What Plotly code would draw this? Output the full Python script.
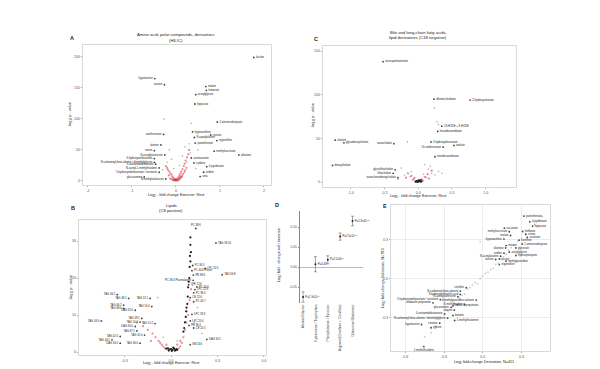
import plotly.graph_objects as go

# ---------------- Panel A: Amino acid, polar compounds (HILIC) ----------------
A_lab_x = [1.77, -0.48, -0.26, 0.68, 0.69, 0.45, 0.43, 0.94, -0.28, 0.38, 0.42, 0.79, 0.44, 0.93,
           -0.34, -0.49, -0.25, -0.49, -0.49, -0.46, -0.38, -0.38, -0.72, -0.23, 0.87, 1.43, 0.35,
           0.41, 0.70, 0.63, 0.55]
A_lab_y = [199, 165, 155, 152, 146, 139, 124, 95, 75, 79, 70, 74, 61, 65, 58, 49, 42, 36, 30, 27,
           21, 14, 6.5, 3.3, 48, 42, 37, 29, 23, 14, 7]
A_lab_name = ["lactate", "hypotaurine", "taurine", "malate", "fumarate", "acetylglycine", "hippurate",
              "2-aminoisobutyrate", "xanthurenate", "hypoxanthine", "N-acetylalanine", "inosine",
              "pantothenate", "trigonelline", "alanine", "serine", "N-acetylputrescine",
              "3-hydroxyanthranilate", "N-carbamoyl-beta-alanine / dimethylglycine",
              "4-acetamidobutanoate", "N-acetyl-1-methylhistidine",
              "5-hydroxyindoleacetate / serotonin", "glucosamine", "N-methylisoleucine",
              "methylsuccinate", "allantoin", "acetoacetate", "cytidine", "4-pyridoxate", "uridine", "urea"]
A_lab_side = ["R", "L", "L", "R", "R", "R", "R", "R", "L", "R", "R", "R", "R", "R", "L", "L", "L", "L",
              "L", "L", "L", "L", "L", "L", "R", "R", "R", "R", "R", "R", "R"]
A_red_x = [0.0, 0.02, -0.02, 0.04, -0.04, 0.06, -0.06, 0.08, -0.08, 0.1, -0.1, 0.12, -0.12, 0.15, -0.15,
           0.18, -0.18, 0.2, -0.2, 0.22, 0.25, -0.23, 0.28, 0.3, 0.05, -0.05, 0.1, -0.1, 0.14, 0.16,
           0.03, -0.03, 0.07, 0.09, 0.11, -0.07, -0.13, 0.19, 0.24, 0.21, 0.01, -0.01, 0.13, -0.16]
A_red_y = [1, 2, 2.5, 4, 3, 6, 5, 9, 7, 12, 10, 15, 12, 19, 15, 24, 18, 28, 21, 33, 38, 24, 43, 50, 1.5,
           1, 4, 3, 8, 11, 0.5, 0.8, 2, 5, 7, 1.5, 4, 14, 21, 17, 3, 1.2, 6, 9]
A_gray_x = [0.35, -0.27, 0.6, -0.1, 0.2, 0.3, -0.2, 0.25, 0.45, -0.3, 0.15, 0.5, -0.15, 0.33, -0.05, 0.08]
A_gray_y = [93, 100, 70, 35, 55, 60, 30, 30, 20, 18, 40, 50, 50, 45, 20, 25]

# ---------------- Panel C: Bile and long-chain fatty acids (C18 negative) ----------------
C_lab_x = [-0.52, 0.235, 0.77, 0.35, 0.29, -1.23, -1.10, -0.36, 0.19, 0.37, 0.53, 0.25, -1.27, -0.34,
           -0.37, -0.30]
C_lab_y = [138, 95, 94, 64, 58, 48, 45, 44, 46, 40, 42, 29, 19, 14, 10, 5]
C_lab_name = ["eicosapentaenoate", "dihomo-linoleate", "2-hydroxystearate", "13-HODE + 9-HODE",
              "hexadecanedioate", "cholate", "glycodeoxycholate", "taurocholate",
              "3-hydroxydecanoate", "10-undecenoate", "azelate", "tetradecanedioate", "deoxycholate",
              "glycolithocholate", "lithocholate", "taurochenodeoxycholate"]
C_lab_side = ["R", "R", "R", "R", "R", "R", "R", "L", "R", "L", "R", "R", "R", "L", "L", "L"]
C_gray_x = [0.24, 0.28, -0.16, 0.3, 0.1, 0.15, -0.1, -0.2, 0.2, 0.25, -0.05, 0.05, 0.12, -0.12, 0.18,
            -0.25, 0.08, 0.3, -0.3, 0.35]
C_gray_y = [85, 69, 46, 66, 20, 15, 12, 8, 10, 8, 5, 3, 5, 6, 18, 16, 9, 12, 3, 10]
C_black_x = [0.0, 0.02, -0.02, 0.04, -0.04, 0.01, 0.03, -0.01, 0.05, -0.03]
C_black_y = [0.5, 1.0, 1.2, 0.3, 0.6, 1.8, 2.0, 0.2, 0.9, 0.4]
C_red_x = [0.05, -0.06, 0.1, -0.1, 0.14, 0.2, -0.15, 0.0, 0.07, -0.08, 0.16, -0.18]
C_red_y = [3, 4, 6, 7, 9, 13, 10, 2, 1.5, 2.5, 4, 5]

# ---------------- Panel B: Lipids (C8 positive) ----------------
B_lab_x = [0.16, 0.29, 0.14, 0.22, 0.135, 0.33, 0.144, 0.143, 0.114, 0.167, 0.154, 0.146, 0.124,
           0.146, 0.135, 0.124, 0.116, 0.146, 0.231, 0.124,
           -0.347, -0.274, -0.135, -0.306, -0.306, -0.124, -0.231, -0.45, -0.189, -0.2, -0.103,
           -0.231, -0.22, -0.171, -0.328, -0.381, -0.328, -0.2]
B_lab_y = [33.4, 29.5, 23.4, 22.6, 22.0, 20.9, 20.8, 19.4, 18.2, 17.6, 16.9, 16.0, 14.7, 13.6, 10.2,
           8.4, 7.2, 6.5, 3.4, 2.0,
           15.5, 14.5, 14.5, 12.7, 11.8, 12.3, 11.3, 8.4, 9.1, 8.1, 7.7, 6.9, 5.7, 4.6, 4.2, 3.3,
           2.4, 2.4]
B_lab_name = ["PC 38:6", "TAG 58:10", "PC 36:5", "LPC 20:5", "PC 40:6 Plasm", "TAG 56:8", "PE 38:6",
              "PC 36:4 Plasmalogen", "LPE 22:6", "PC 40:6", "LPC 22:6", "PC 38:4", "CE 22:6",
              "PC 40:7", "LPC 18:3", "LPC 20:4", "PE 36:4", "CE 20:5", "DAG 34:2", "SM 24:0",
              "TAG 46:1", "TAG 48:1", "TAG 52:1", "TAG 46:2", "TAG 48:0", "TAG 50:0", "DAG 32:0",
              "TAG 44:0", "TAG 49:1", "TAG 50:1", "TAG 51:2", "DAG 30:0", "TAG 47:1", "TAG 45:0",
              "TAG 42:0", "TAG 44:1", "DAG 34:0", "TAG 46:0"]
B_lab_side = ["T", "R", "R", "R", "R", "R", "R", "L", "R", "R", "R", "R", "R", "R", "R", "R", "R", "R",
              "R", "R"] + ["L"] * 18
B_black_x = [0.125, 0.125, 0.128, 0.122, 0.125, 0.12, 0.118, 0.115, 0.11, 0.108, 0.105, 0.1, 0.098,
             0.095, 0.09, 0.085, 0.08, 0.0, 0.01, 0.02, -0.01, 0.03, 0.015, -0.02, 0.025, 0.005,
             0.035, -0.015, 0.04, -0.03]
B_black_y = [31, 29, 27, 26, 24.5, 23, 20, 19, 17.5, 15, 13, 12, 11, 9.5, 8, 6.5, 5.5, 0.8, 0.6, 0.9,
             0.7, 0.5, 1.2, 1.0, 0.4, 0.3, 0.8, 0.4, 0.6, 0.9]
B_red_x = [-0.12, -0.1, -0.08, -0.06, -0.05, -0.04, 0.06, 0.07, 0.08, 0.09, 0.1, 0.11, -0.15, -0.18,
           0.06, 0.05, -0.03, -0.07, 0.12, 0.1, -0.22, -0.13, 0.04, 0.13]
B_red_y = [5, 4, 3, 2, 1.5, 1, 1.5, 2.5, 4, 6, 8, 10, 6, 7, 3, 1, 2, 2.5, 14, 11, 8, 3, 2, 17]
B_gray_x = [-0.086, -0.05, 0.04, 0.15, 0.17, 0.14, 0.13, 0.2]
B_gray_y = [14.7, 4, 3, 8, 12, 18, 27, 5]

# ---------------- Panel D: ratios ----------------
D_cats = ["Alanine/Glycine", "Kynurenine / Tryptophan", "Phenylalanine / Tyrosine",
          "Arginine/(Ornithine + Citrulline)", "Glutamine/Glutamate"]
D_mean = [-0.075, 0.007, 0.018, 0.076, 0.115]
D_err = [0.013, 0.019, 0.010, 0.009, 0.012]
D_pval = ["P=1.3x10<sup>-8</sup>", "P=0.43", "P=2.5x10<sup>-3</sup>", "P=2.5x10<sup>-10</sup>",
          "P=1.9x10<sup>-11</sup>"]

# ---------------- Panel E: derivation vs validation ----------------
E_lab_x = [0.318, 0.364, 0.385, 0.205, 0.167, 0.308, 0.215, 0.333, 0.344, 0.164, 0.282, 0.305, 0.18,
           0.177, 0.256, 0.205, 0.164, 0.256, 0.138, 0.1, 0.128, 0.18, 0.128,
           -0.128, -0.174, -0.174, -0.192, -0.328, -0.051, -0.385, -0.141, -0.231, -0.246, -0.22,
           -0.295, -0.231, -0.272, -0.218, -0.333, -0.474, -0.4, -0.456]
E_lab_y = [0.484, 0.44, 0.407, 0.363, 0.391, 0.365, 0.334, 0.342, 0.319, 0.306, 0.298, 0.269, 0.256,
           0.238, 0.238, 0.205, 0.197, 0.179, 0.174, 0.148, 0.153, 0.135, 0.109,
           -0.07, -0.096, -0.122, -0.14, -0.163, -0.166, -0.187, -0.2, -0.21, -0.223, -0.244,
           -0.272, -0.285, -0.306, -0.324, -0.345, -0.355, -0.38, -0.526]
E_lab_name = ["pantothenate", "4-pyridoxate", "hippurate", "methylsuccinate", "succinate", "fumarate",
              "malate", "citrate", "aconitate", "hypoxanthine", "xanthine", "2-aminoisobutyrate",
              "inosine", "allantoin", "glycerate", "acetylglycine", "uridine", "hydroxybutyrate",
              "N-acetylalanine", "taurine", "lactate", "methylguanidine", "trigonelline",
              "citrulline", "N-carbamoyl-beta-alanine", "3-hydroxyanthranilic acid",
              "N-acetylputrescine", "5-hydroxyindoleacetate / serotonin",
              "dimethylguanidino valerate", "imidazole propionate", "N-methylproline",
              "indole-3-propionate", "glucosamine", "alanine", "4-acetamidobutanoate", "betaine",
              "N-carbamoyl-beta-alanine / dimethylglycine", "1-methylhistamine", "creatine",
              "hypotaurine", "glycine", "1-methylhistidine"]
E_lab_side = ["R", "R", "R", "L", "R", "R", "L", "R", "R", "L", "R", "R", "R", "L", "R", "R", "L", "R",
              "L", "L", "R", "R", "R",
              "L", "L", "L", "L", "L", "L", "L", "L", "R", "L", "L", "L", "R", "L", "R", "L", "L", "R", "B"]
E_gray_x = [-0.45, -0.4, -0.36, -0.33, -0.3, -0.27, -0.24, -0.22, -0.2, -0.18, -0.16, -0.14, -0.12,
            -0.1, -0.08, -0.06, -0.04, -0.02, 0.0, 0.02, 0.04, 0.06, 0.08, 0.1, 0.12, 0.14, 0.16,
            0.18, 0.2, 0.22, 0.24, 0.27, 0.3, 0.33, 0.36, 0.4, 0.43, 0.46, -0.02]
E_gray_y = [-0.45, -0.42, -0.37, -0.3, -0.28, -0.25, -0.22, -0.19, -0.2, -0.15, -0.13, -0.12, -0.08,
            -0.07, -0.05, -0.03, -0.04, 0.0, 0.02, 0.04, 0.05, 0.07, 0.08, 0.11, 0.12, 0.15, 0.17,
            0.19, 0.22, 0.24, 0.26, 0.29, 0.31, 0.35, 0.38, 0.42, 0.45, 0.48, 0.285]

# ---------------- helpers ----------------
FONT = "Liberation Sans, Arial, sans-serif"
SIDE = {"R": "middle right", "L": "middle left", "T": "top center", "B": "bottom center"}
RED = "rgba(215,40,60,0.55)"
GRAY = "rgba(110,110,110,0.55)"
LABFONT = dict(size=2.7, color="#1a1a1a", family=FONT)


def box_axis(domain, rng, tickvals, ticktext, anchor, grid=False):
    return dict(domain=domain, range=rng, tickvals=tickvals, ticktext=ticktext, anchor=anchor,
                showline=True, mirror=True, linecolor="#d9d9d9", linewidth=0.6,
                showgrid=grid, gridcolor="#ececec", gridwidth=0.5, zeroline=False,
                ticks="outside", ticklen=1.5, tickcolor="#aaa", tickwidth=0.5,
                tickfont=dict(size=3.6, color="#555", family=FONT))


def dots(x, y, xa, ya, color, size=2.2):
    return go.Scatter(x=x, y=y, xaxis=xa, yaxis=ya, mode="markers", hoverinfo="skip",
                      marker=dict(size=size, color=color, line=dict(width=0)), showlegend=False)


def labels(x, y, names, sides, xa, ya):
    return go.Scatter(x=x, y=y, xaxis=xa, yaxis=ya, mode="markers+text", text=names,
                      textposition=[SIDE[s] for s in sides], textfont=LABFONT, hoverinfo="skip",
                      marker=dict(size=1.8, color="#444"), showlegend=False, cliponaxis=False)


fig = go.Figure()
# A
fig.add_trace(dots(A_red_x, A_red_y, "x", "y", RED))
fig.add_trace(dots(A_gray_x, A_gray_y, "x", "y", GRAY, 1.6))
fig.add_trace(labels(A_lab_x, A_lab_y, A_lab_name, A_lab_side, "x", "y"))
# C
fig.add_trace(dots(C_gray_x, C_gray_y, "x2", "y2", GRAY, 1.6))
fig.add_trace(dots(C_red_x, C_red_y, "x2", "y2", RED))
fig.add_trace(dots(C_black_x, C_black_y, "x2", "y2", "#222", 2.2))
fig.add_trace(labels(C_lab_x, C_lab_y, C_lab_name, C_lab_side, "x2", "y2"))
# B
fig.add_trace(dots(B_red_x, B_red_y, "x3", "y3", RED))
fig.add_trace(dots(B_gray_x, B_gray_y, "x3", "y3", GRAY, 1.6))
fig.add_trace(dots(B_black_x, B_black_y, "x3", "y3", "#222", 2.2))
fig.add_trace(labels(B_lab_x, B_lab_y, B_lab_name, B_lab_side, "x3", "y3"))
# D
fig.add_trace(go.Scatter(x=list(range(len(D_cats))), y=D_mean, xaxis="x4", yaxis="y4",
                         mode="markers+text", text=D_pval, textposition="middle right",
                         textfont=dict(size=2.8, color="#1a1a1a", family=FONT),
                         marker=dict(size=2, color="#222"),
                         error_y=dict(type="data", array=D_err, color="#666", thickness=0.6, width=1.5),
                         showlegend=False, hoverinfo="skip", cliponaxis=False))
# E
fig.add_trace(dots(E_gray_x, E_gray_y, "x5", "y5", "rgba(150,150,150,0.5)", 1.8))
fig.add_trace(labels(E_lab_x, E_lab_y, E_lab_name, E_lab_side, "x5", "y5"))


def px(x):
    return x / 600


def py(y):
    return 1 - y / 369


layout = dict(
    width=600, height=369, margin=dict(l=0, r=0, t=0, b=0),
    paper_bgcolor="white", plot_bgcolor="white", font=dict(family=FONT),
    xaxis=box_axis([px(75), px(263)], [-2.11, 2.16], [-2, -1, 0, 1, 2], ["-2", "-1", "0", "1", "2"], "y"),
    yaxis=box_axis([py(177), py(37)], [-6.5, 219], [0, 50, 100, 150, 200], ["0", "50", "100", "150", "200"], "x"),
    xaxis2=box_axis([px(315), px(508)], [-1.41, 1.45], [-1, -0.5, 0, 0.5, 1], ["-1.0", "-0.5", "0.0", "0.5", "1.0"], "y2"),
    yaxis2=box_axis([py(179), py(38)], [-5.7, 156], [0, 50, 100, 150], ["0", "50", "100", "150"], "x2"),
    xaxis3=box_axis([px(71), px(258)], [-0.594, 0.613], [-0.6, -0.3, 0, 0.3, 0.6], ["-0.6", "-0.3", "0.0", "0.3", "0.6"], "y3"),
    yaxis3=box_axis([py(347), py(212)], [-0.8, 35.7], [0, 10, 20, 30], ["0", "10", "20", "30"], "x3"),
    xaxis4=dict(domain=[px(292), px(355)], range=[-0.25, 4.85], anchor="y4",
                tickvals=list(range(len(D_cats))), ticktext=D_cats, tickangle=-90,
                showline=False, showgrid=False, zeroline=False, ticks="",
                tickfont=dict(size=3.4, color="#444", family=FONT)),
    yaxis4=dict(domain=[py(295), py(203)], range=[-0.09, 0.14], anchor="x4",
                tickvals=[-0.05, 0, 0.05, 0.1], ticktext=["-0.05", "0.00", "0.05", "0.10"],
                showline=True, linecolor="#888", linewidth=0.6, showgrid=False,
                zeroline=True, zerolinecolor="#bbbbbb", zerolinewidth=0.8,
                ticks="outside", ticklen=1.5, tickcolor="#888", tickwidth=0.5,
                tickfont=dict(size=3.4, color="#555", family=FONT)),
    xaxis5=box_axis([px(383), px(542)], [-0.71, 0.52], [-0.6, -0.3, 0, 0.3], ["-0.6", "-0.3", "0.0", "0.3"], "y5", grid=True),
    yaxis5=box_axis([py(343), py(197)], [-0.56, 0.57], [-0.3, 0, 0.3], ["-0.3", "0.0", "0.3"], "x5", grid=True),
)
fig.update_layout(**layout)

ann = []


def text(x, y, s, size=4, angle=0, bold=False, xanchor="center"):
    ann.append(dict(x=px(x), y=py(y), xref="paper", yref="paper", text=("<b>%s</b>" % s) if bold else s,
                    showarrow=False, textangle=angle, xanchor=xanchor, yanchor="middle",
                    font=dict(size=size, color="#222", family=FONT)))


XT = "Log<sub>2</sub> - fold change Exercise: Rest"
YT = "-log<sub>10</sub> p - value"
# panel letters
text(64, 30, "A", 5.5, bold=True)
text(308, 31, "C", 5.5, bold=True)
text(65, 200, "B", 5.5, bold=True)
text(269, 197, "D", 5.5, bold=True)
text(377, 198, "E", 5.5, bold=True)
# titles
text(168, 27, "Amino acid, polar compounds, derivatives", 4.2)
text(168, 32.5, "(HILIC)", 4.2)
text(410, 24, "Bile and long-chain fatty acids,", 4.2)
text(410, 29.5, "lipid derivatives (C18 negative)", 4.2)
text(163, 197, "Lipids", 4.2)
text(163, 202, "(C8 positive)", 4.2)
# axis titles
text(168, 187, XT, 3.8)
text(410, 188.5, XT, 3.8)
text(163, 355.5, XT, 3.8)
text(476, 354, "Log<sub>2</sub> fold-change Derivation, N=411", 3.8)
text(62, 107, YT, 3.8, angle=-90)
text(305, 108, YT, 3.8, angle=-90)
text(63, 280, YT, 3.8, angle=-90)
text(271, 247, "Log<sub>2</sub> fold - change with exercise", 3.8, angle=-90)
text(375, 270, "Log<sub>2</sub> fold-change Validation, N=783", 3.8, angle=-90)
fig.update_layout(annotations=ann)

fig.write_html("out.html")
